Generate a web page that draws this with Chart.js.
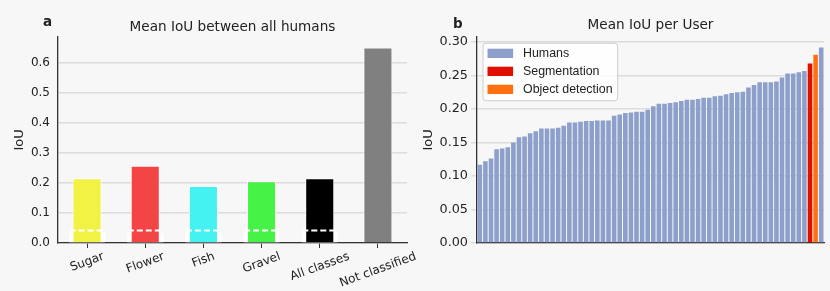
<!DOCTYPE html>
<html>
<head>
<meta charset="utf-8">
<script src="https://cdn.jsdelivr.net/npm/chart.js@4.4.1/dist/chart.umd.min.js"></script>
<style>
  html, body { margin: 0; padding: 0; background: #f7f7f7; }
  #wrap { position: relative; width: 830px; height: 291px; overflow: hidden; }
  canvas { position: absolute; top: 0; }
  #classChart { left: 0; }
  #userChart { left: 415px; }
</style>
</head>
<body>
<div id="wrap">
  <canvas id="userChart" width="415" height="291"></canvas>
  <canvas id="classChart" width="430" height="291"></canvas>
</div>
<script>
// panel a: mean IoU between all humans, per class
var classNames = ['Sugar', 'Flower', 'Fish', 'Gravel', 'All classes', 'Not classified'];
var classIoU = [0.216, 0.257, 0.190, 0.206, 0.216, 0.651];
var classColors = ['#f2f244', '#f44545', '#44f2f2', '#46f246', '#000000', '#808080'];
var baselineIoU = [0.042, 0.042, 0.042, 0.042, 0.042, null];
var shadeIoU = [0.034, 0.034, 0.034, 0.034, 0.034, null];

// panel b: mean IoU per user
var humanIoU = [
  0.117, 0.122, 0.126, 0.140, 0.141, 0.143, 0.150, 0.158, 0.159, 0.164,
  0.167, 0.171, 0.171, 0.171, 0.172, 0.175, 0.180, 0.180, 0.181, 0.182,
  0.182, 0.183, 0.183, 0.183, 0.190, 0.192, 0.194, 0.195, 0.196, 0.196,
  0.199, 0.204, 0.208, 0.208, 0.209, 0.210, 0.212, 0.214, 0.214, 0.215,
  0.217, 0.217, 0.219, 0.220, 0.222, 0.224, 0.225, 0.226, 0.232, 0.236,
  0.240, 0.240, 0.240, 0.241, 0.247, 0.253, 0.253, 0.255, 0.257, 0.292
];
var segmentationIoU = 0.268;
var detectionIoU = 0.281;
var sourceNames = ['Humans', 'Segmentation', 'Object detection'];
var sourceColors = ['#8da0cb', '#e01000', '#ff7011'];

var textColor = '#222';
var axisColor = '#333';
var gridColor = '#dcdcdc';
var fontFamily = '"DejaVu Sans", sans-serif';

Chart.defaults.font.family = fontFamily;
Chart.defaults.color = textColor;

function panelLetter(letter, x, y) {
  return {
    id: 'letter' + letter,
    afterDraw: function (chart) {
      var ctx = chart.ctx;
      ctx.save();
      ctx.font = 'bold 13.5px ' + fontFamily;
      ctx.fillStyle = textColor;
      ctx.textBaseline = 'alphabetic';
      ctx.fillText(letter, x, y);
      ctx.restore();
    }
  };
}

var classExtras = {
  id: 'classExtras',
  afterDatasetsDraw: function (chart) {
    var xs = chart.scales.x, ys = chart.scales.y, ctx = chart.ctx;
    var half = xs.width / classNames.length * 0.3;
    ctx.save();
    ctx.strokeStyle = '#ffffff';
    ctx.lineWidth = 2;
    ctx.setLineDash([6, 3]);
    baselineIoU.forEach(function (v, i) {
      if (v == null) return;
      var px = xs.getPixelForValue(i);
      var py = ys.getPixelForValue(v);
      ctx.beginPath();
      ctx.moveTo(px - half, py);
      ctx.lineTo(px + half, py);
      ctx.stroke();
    });
    ctx.restore();
  },
  afterDraw: function (chart) {
    var xs = chart.scales.x, ctx = chart.ctx;
    var ang = 20 * Math.PI / 180;
    ctx.save();
    ctx.font = '12px ' + fontFamily;
    ctx.fillStyle = textColor;
    ctx.textAlign = 'center';
    ctx.textBaseline = 'middle';
    classNames.forEach(function (name, i) {
      var px = xs.getPixelForTick(i);
      var w = ctx.measureText(name).width;
      var bh = w * Math.sin(ang) + 11 * Math.cos(ang);
      var cy = xs.top + 8 + bh / 2;
      ctx.save();
      ctx.translate(px, cy);
      ctx.rotate(-ang);
      ctx.fillText(name, 0, 0);
      ctx.restore();
    });
    ctx.restore();
  }
};

new Chart(document.getElementById('classChart'), {
  type: 'bar',
  data: {
    labels: classNames,
    datasets: [{
      data: classIoU,
      backgroundColor: classColors,
      borderColor: '#ffffff',
      borderWidth: 1,
      barPercentage: 0.5,
      categoryPercentage: 1,
      grouped: false,
      order: 0
    }, {
      data: shadeIoU,
      backgroundColor: '#ffffff',
      barPercentage: 0.62,
      categoryPercentage: 1,
      grouped: false,
      order: 1
    }]
  },
  options: {
    responsive: false,
    animation: false,
    layout: { padding: { left: 0, right: 23, top: 0, bottom: 0 } },
    plugins: {
      legend: { display: false },
      tooltip: { enabled: false },
      title: {
        display: true,
        text: 'Mean IoU between all humans',
        fullSize: false,
        color: textColor,
        font: { size: 13.6, weight: 'normal' },
        padding: { top: 19, bottom: 1.4 }
      }
    },
    scales: {
      x: {
        offset: true,
        grid: { display: true, drawOnChartArea: false, drawTicks: true, tickLength: 5, color: axisColor, offset: false },
        border: { color: axisColor, width: 1.3 },
        ticks: { display: false },
        afterFit: function (s) { s.height = 48; }
      },
      y: {
        min: 0,
        max: 0.687,
        ticks: {
          stepSize: 0.1, includeBounds: false, padding: 8, color: textColor,
          font: { size: 12 },
          callback: function (v) { return v.toFixed(1); }
        },
        grid: { color: gridColor, lineWidth: 1.5, drawTicks: false },
        border: { color: axisColor, width: 1.3 },
        title: { display: true, text: 'IoU', color: textColor, font: { size: 13 }, padding: { top: 12, bottom: 0 } },
        afterFit: function (s) { s.width = 58; }
      }
    }
  },
  plugins: [classExtras, panelLetter('a', 43, 26)]
});

// merge the users and the two models, sorted by IoU
var entries = humanIoU.map(function (v) { return { v: v, src: 0 }; })
  .concat([{ v: segmentationIoU, src: 1 }, { v: detectionIoU, src: 2 }]);
entries.sort(function (a, b) { return a.v - b.v; });
var userLabels = entries.map(function (e, i) { return String(i + 1); });

var userLegend = {
  id: 'userLegend',
  afterDraw: function (chart) {
    var ctx = chart.ctx, area = chart.chartArea;
    ctx.save();
    ctx.font = '12.4px "Liberation Sans", Arial, sans-serif';
    var tw = 0;
    sourceNames.forEach(function (n) { tw = Math.max(tw, ctx.measureText(n).width); });
    var bx = area.left + 6, by = area.top + 6.5;
    var bw = 4.5 + 25.6 + 10 + tw + 5, bh = 57.5;
    ctx.fillStyle = 'rgba(255,255,255,0.85)';
    ctx.strokeStyle = '#cccccc';
    ctx.lineWidth = 1;
    ctx.beginPath();
    ctx.roundRect(bx, by, bw, bh, 3);
    ctx.fill();
    ctx.stroke();
    ctx.textBaseline = 'middle';
    sourceNames.forEach(function (n, i) {
      var ry = by + 5.5 + i * 18;
      ctx.fillStyle = sourceColors[i];
      ctx.fillRect(bx + 4.5, ry, 25.6, 9.3);
      ctx.fillStyle = textColor;
      ctx.fillText(n, bx + 40, ry + 5);
    });
    ctx.restore();
  }
};

new Chart(document.getElementById('userChart'), {
  type: 'bar',
  data: {
    labels: userLabels,
    datasets: sourceNames.map(function (name, k) {
      return {
        label: name,
        data: entries.map(function (e) { return e.src === k ? e.v : null; }),
        backgroundColor: sourceColors[k],
        barPercentage: 0.82,
        categoryPercentage: 1,
        grouped: false
      };
    })
  },
  options: {
    responsive: false,
    animation: false,
    layout: { padding: { left: 0, right: 6, top: 0, bottom: 0 } },
    plugins: {
      legend: { display: false },
      tooltip: { enabled: false },
      title: {
        display: true,
        text: 'Mean IoU per User',
        fullSize: false,
        color: textColor,
        font: { size: 13.6, weight: 'normal' },
        padding: { top: 17, bottom: 3.4 }
      }
    },
    scales: {
      x: {
        offset: true,
        grid: { display: false },
        border: { color: axisColor, width: 1.3 },
        ticks: { display: false },
        afterFit: function (s) { s.height = 48; }
      },
      y: {
        min: 0,
        max: 0.308,
        ticks: {
          stepSize: 0.05, includeBounds: false, padding: 3, color: textColor,
          font: { size: 12.8 },
          callback: function (v) { return v.toFixed(2); }
        },
        grid: { color: gridColor, lineWidth: 1.5, drawTicks: true, tickLength: 6 },
        border: { color: axisColor, width: 1.3 },
        title: { display: true, text: 'IoU', color: textColor, font: { size: 13 }, padding: { top: 6, bottom: 0 } },
        afterFit: function (s) { s.width = 62; }
      }
    }
  },
  plugins: [userLegend, panelLetter('b', 38, 28)]
});
</script>
</body>
</html>
